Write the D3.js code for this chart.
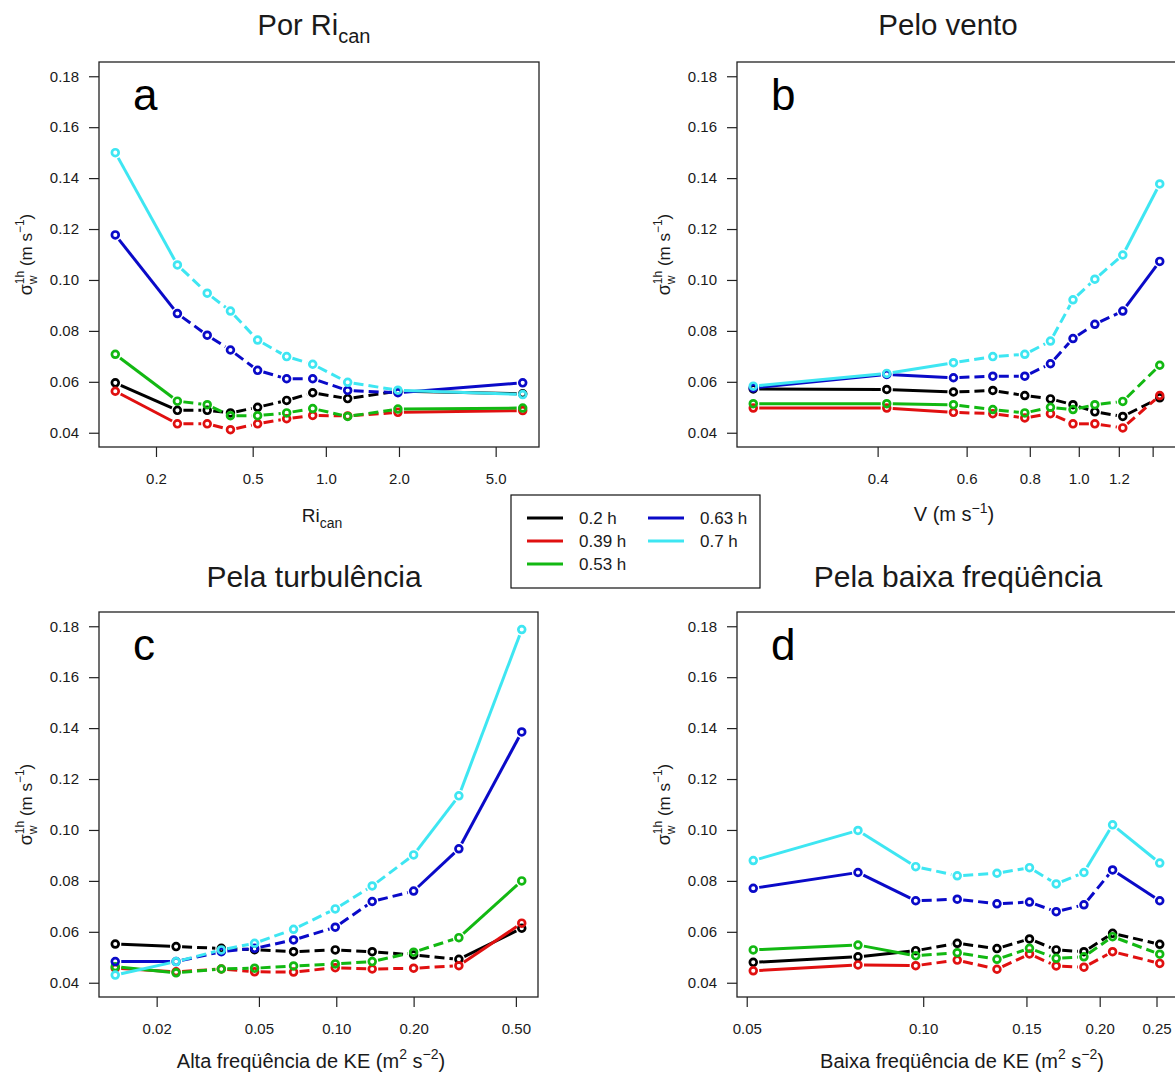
<!DOCTYPE html>
<html>
<head>
<meta charset="utf-8">
<script src="https://cdn.jsdelivr.net/npm/d3@7"></script>
<style>
  html, body { margin: 0; padding: 0; background: #ffffff; }
  svg { display: block; font-family: "Liberation Sans", Arial, sans-serif; }
</style>
</head>
<body>
<svg id="chart" width="1175" height="1075"></svg>
<script>
// ---- data ---------------------------------------------------------------
const seriesNames = ["0.2 h", "0.39 h", "0.53 h", "0.63 h", "0.7 h"];
const seriesColors = ["#000000", "#e01010", "#12b812", "#0a0ac8", "#3ee6f2"];
const yTicks = [0.04, 0.06, 0.08, 0.10, 0.12, 0.14, 0.16, 0.18];

// (a) binned by Ri_can
const riX = [0.136, 0.245, 0.325, 0.405, 0.524, 0.690, 0.883, 1.23, 1.98, 6.46];
const riBlack = [0.0596, 0.0488, 0.0488, 0.0478, 0.0500, 0.0527, 0.0557, 0.0534, 0.0563, 0.0553];
const riRed   = [0.0563, 0.0435, 0.0435, 0.0412, 0.0435, 0.0455, 0.0468, 0.0466, 0.0480, 0.0487];
const riGreen = [0.0708, 0.0524, 0.0510, 0.0467, 0.0467, 0.0478, 0.0495, 0.0464, 0.0493, 0.0497];
const riBlue  = [0.1177, 0.0868, 0.0783, 0.0725, 0.0645, 0.0612, 0.0612, 0.0566, 0.0557, 0.0596];
const riCyan  = [0.1500, 0.1059, 0.0948, 0.0878, 0.0764, 0.0699, 0.0669, 0.0598, 0.0567, 0.0550];
const riTicks = [0.2, 0.5, 1, 2, 5];
const riTickLabels = ["0.2", "0.5", "1.0", "2.0", "5.0"];

// (b) binned by wind speed
const vX = [0.227, 0.417, 0.565, 0.676, 0.782, 0.879, 0.974, 1.076, 1.222, 1.446];
const vBlack = [0.0572, 0.0570, 0.0560, 0.0566, 0.0546, 0.0533, 0.0510, 0.0482, 0.0464, 0.0537];
const vRed   = [0.0497, 0.0497, 0.0480, 0.0475, 0.0458, 0.0475, 0.0435, 0.0435, 0.0419, 0.0546];
const vGreen = [0.0514, 0.0514, 0.0510, 0.0491, 0.0478, 0.0500, 0.0491, 0.0510, 0.0523, 0.0665];
const vBlue  = [0.0576, 0.0629, 0.0616, 0.0622, 0.0622, 0.0671, 0.0770, 0.0826, 0.0878, 0.1073];
const vCyan  = [0.0583, 0.0633, 0.0675, 0.0699, 0.0708, 0.0760, 0.0922, 0.1003, 0.1098, 0.1377];
const vTicks = [0.4, 0.6, 0.8, 1.0, 1.2, 1.4];
const vTickLabels = ["0.4", "0.6", "0.8", "1.0", "1.2", ""];

// (c) binned by high-frequency KE
const hfX = [0.0138, 0.0238, 0.0357, 0.0481, 0.0682, 0.0991, 0.138, 0.200, 0.300, 0.527];
const hfBlack = [0.0552, 0.0542, 0.0535, 0.0530, 0.0522, 0.0529, 0.0522, 0.0509, 0.0492, 0.0614];
const hfRed   = [0.0457, 0.0443, 0.0454, 0.0443, 0.0442, 0.0459, 0.0454, 0.0457, 0.0467, 0.0634];
const hfGreen = [0.0463, 0.0439, 0.0454, 0.0457, 0.0466, 0.0474, 0.0483, 0.0520, 0.0577, 0.0800];
const hfBlue  = [0.0483, 0.0483, 0.0522, 0.0535, 0.0568, 0.0618, 0.0719, 0.0760, 0.0926, 0.1385];
const hfCyan  = [0.0430, 0.0483, 0.0529, 0.0555, 0.0610, 0.0690, 0.0780, 0.0902, 0.1134, 0.1787];
const hfTicks = [0.02, 0.05, 0.1, 0.2, 0.5];
const hfTickLabels = ["0.02", "0.05", "0.10", "0.20", "0.50"];

// (d) binned by low-frequency KE
const lfX = [0.0513, 0.0774, 0.0971, 0.1143, 0.1336, 0.1518, 0.1686, 0.188, 0.2104, 0.2532];
const lfBlack = [0.0480, 0.0502, 0.0526, 0.0555, 0.0534, 0.0572, 0.0529, 0.0522, 0.0594, 0.0551];
const lfRed   = [0.0447, 0.0470, 0.0467, 0.0489, 0.0453, 0.0513, 0.0466, 0.0461, 0.0522, 0.0476];
const lfGreen = [0.0529, 0.0548, 0.0506, 0.0518, 0.0492, 0.0535, 0.0496, 0.0502, 0.0581, 0.0512];
const lfBlue  = [0.0771, 0.0833, 0.0722, 0.0728, 0.0710, 0.0717, 0.0679, 0.0706, 0.0843, 0.0722];
const lfCyan  = [0.0880, 0.0998, 0.0856, 0.0820, 0.0830, 0.0852, 0.0788, 0.0833, 0.1020, 0.0870];
const lfTicks = [0.05, 0.10, 0.15, 0.20, 0.25];
const lfTickLabels = ["0.05", "0.10", "0.15", "0.20", "0.25"];

// ---- layout ---------------------------------------------------------------
const svg = d3.select("#chart");
const TEXT = "#1a1a1a";

const panels = [
  { letter: "a", x: riX, ys: [riBlack, riRed, riGreen, riBlue, riCyan],
    ticks: riTicks, tickLabels: riTickLabels,
    box: { l: 99, r: 539, t: 62, b: 447 },
    title: [["Por Ri", 29, 0], ["can", 20, 8]], titlePos: [314, 35],
    xlab: [["Ri", 19, 0], ["can", 14, 6]], xlabPos: [322, 522] },
  { letter: "b", x: vX, ys: [vBlack, vRed, vGreen, vBlue, vCyan],
    ticks: vTicks, tickLabels: vTickLabels,
    box: { l: 737, r: 1176, t: 62, b: 447 },
    title: [["Pelo vento", 29.5, 0]], titlePos: [948, 35],
    xlab: [["V (m s", 20, 0], ["\u22121", 14, -8], [")", 20, 8]], xlabPos: [954, 521] },
  { letter: "c", x: hfX, ys: [hfBlack, hfRed, hfGreen, hfBlue, hfCyan],
    ticks: hfTicks, tickLabels: hfTickLabels,
    box: { l: 99, r: 538, t: 612, b: 997 },
    title: [["Pela turbul\u00eancia", 30, 0]], titlePos: [314, 587],
    xlab: [["Alta freq\u00fc\u00eancia de KE (m", 20, 0], ["2", 14, -9], [" s", 20, 9], ["\u22122", 14, -9], [")", 20, 9]],
    xlabPos: [311, 1068] },
  { letter: "d", x: lfX, ys: [lfBlack, lfRed, lfGreen, lfBlue, lfCyan],
    ticks: lfTicks, tickLabels: lfTickLabels,
    box: { l: 737, r: 1176, t: 612, b: 997 },
    title: [["Pela baixa freq\u00fc\u00eancia", 30, 0]], titlePos: [958, 587],
    xlab: [["Baixa freq\u00fc\u00eancia de KE (m", 20, 0], ["2", 14, -9], [" s", 20, 9], ["\u22122", 14, -9], [")", 20, 9]],
    xlabPos: [962, 1068] }
];

// text built from runs of [string, font size, vertical shift, optional dx]
function richText(g, x, y, runs, anchor) {
  const t = g.append("text").attr("x", x).attr("y", y)
    .attr("text-anchor", anchor || "middle").attr("fill", TEXT);
  runs.forEach(r => {
    const s = t.append("tspan").attr("font-size", r[1]).attr("dy", r[2]).text(r[0]);
    if (r[3] !== undefined) s.attr("dx", r[3]);
  });
  return t;
}

// padded log domain, 4% on each side of the data range
function logDomain(xs) {
  const e = d3.extent(xs).map(Math.log10);
  const p = (e[1] - e[0]) * 0.04;
  return [Math.pow(10, e[0] - p), Math.pow(10, e[1] + p)];
}

const yPad = (0.18 - 0.04) * 0.04;

panels.forEach(P => {
  const B = P.box;
  const g = svg.append("g");
  const x = d3.scaleLog().domain(logDomain(P.x)).range([B.l, B.r]);
  const y = d3.scaleLinear().domain([0.04 - yPad, 0.18 + yPad]).range([B.b, B.t]);

  // y axis
  const ya = g.append("g").attr("transform", `translate(${B.l},0)`)
    .call(d3.axisLeft(y).tickValues(yTicks).tickSize(10).tickPadding(10)
      .tickFormat(d3.format(".2f")));
  ya.select(".domain").remove();
  ya.selectAll("line").attr("stroke", "#222").attr("stroke-width", 1.2);
  ya.selectAll("text").attr("font-size", 15).attr("fill", TEXT)
    .attr("font-family", '"Liberation Sans", Arial, sans-serif');

  // x axis
  const xa = g.append("g").attr("transform", `translate(0,${B.b})`)
    .call(d3.axisBottom(x).tickValues(P.ticks).tickSize(10).tickPadding(16)
      .tickFormat((d, i) => P.tickLabels[i]));
  xa.select(".domain").remove();
  xa.selectAll("line").attr("stroke", "#222").attr("stroke-width", 1.2);
  xa.selectAll("text").attr("font-size", 15).attr("fill", TEXT)
    .attr("font-family", '"Liberation Sans", Arial, sans-serif');

  // frame
  g.append("rect").attr("x", B.l).attr("y", B.t)
    .attr("width", B.r - B.l).attr("height", B.b - B.t)
    .attr("fill", "none").attr("stroke", "#222").attr("stroke-width", 1.3);

  // panel letter
  g.append("text").attr("x", B.l + 34).attr("y", B.t + 48)
    .attr("font-size", 44).attr("fill", "#000").text(P.letter);

  // series: segments with gaps at the points, short segments dashed
  const gap = 6;
  P.ys.forEach((vals, si) => {
    const col = seriesColors[si];
    const pts = vals.map((v, i) => [x(P.x[i]), y(v)]);
    const sg = g.append("g");
    for (let i = 0; i < pts.length - 1; i++) {
      const [x0, y0] = pts[i], [x1, y1] = pts[i + 1];
      const L = Math.hypot(x1 - x0, y1 - y0);
      if (L <= 2 * gap + 1) continue;
      const ux = (x1 - x0) / L, uy = (y1 - y0) / L;
      sg.append("line")
        .attr("x1", x0 + ux * gap).attr("y1", y0 + uy * gap)
        .attr("x2", x1 - ux * gap).attr("y2", y1 - uy * gap)
        .attr("stroke", col).attr("stroke-width", 3)
        .attr("stroke-dasharray", L < 55 ? "10,5" : null);
    }
    sg.selectAll("circle").data(vals).join("circle")
      .attr("cx", (d, i) => x(P.x[i])).attr("cy", d => y(d))
      .attr("r", 3.4).attr("fill", "none")
      .attr("stroke", col).attr("stroke-width", 2.7);
  });

  // titles and axis labels
  richText(svg, P.titlePos[0], P.titlePos[1], P.title);
  richText(svg, P.xlabPos[0], P.xlabPos[1], P.xlab);

  // y label: sigma_w^1h (m s^-1)
  const cy = (B.t + B.b) / 2;
  const yl = svg.append("g").attr("transform", `translate(${B.l - 67},${cy}) rotate(-90)`);
  richText(yl, 0, 0, [
    ["\u03c3", 18, 0], ["w", 12, 5], ["1h", 12, -13, -8.7],
    [" (m s", 17, 8], ["\u22121", 12, -8], [")", 17, 8]
  ]);
});

// legend
const legX = 511, legY = 495;
const lg = svg.append("g");
lg.append("rect").attr("x", legX).attr("y", legY).attr("width", 249).attr("height", 93)
  .attr("fill", "#fff").attr("stroke", "#111").attr("stroke-width", 1.2);
const legPos = [[0, 0], [0, 1], [0, 2], [1, 0], [1, 1]];
seriesNames.forEach((name, i) => {
  const [c, r] = legPos[i];
  const lx = legX + 16 + c * 121, ly = legY + 23 + r * 23;
  lg.append("line").attr("x1", lx).attr("x2", lx + 36).attr("y1", ly).attr("y2", ly)
    .attr("stroke", seriesColors[i]).attr("stroke-width", 3);
  lg.append("text").attr("x", lx + 52).attr("y", ly + 6)
    .attr("font-size", 17).attr("fill", TEXT).text(name);
});
</script>
</body>
</html>
